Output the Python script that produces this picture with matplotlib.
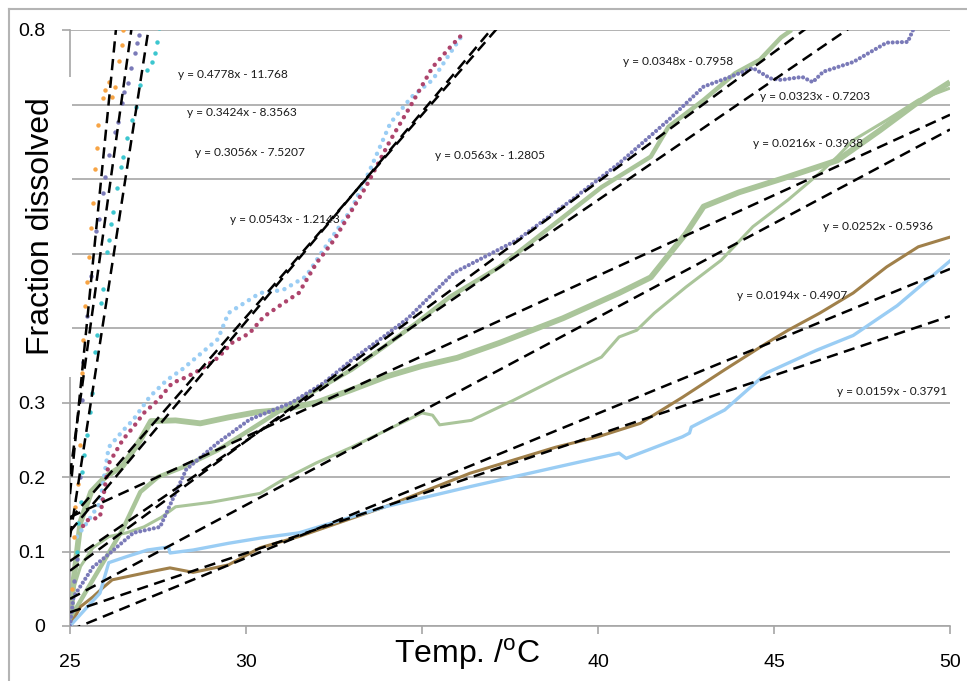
import numpy as np
import matplotlib.pyplot as plt
from matplotlib.lines import Line2D
from matplotlib.patches import Rectangle

# ---- data ----
orange_x = [25.05, 25.1, 25.15, 25.23, 25.28, 25.34, 25.37, 25.43, 25.49, 25.55, 25.6, 25.65,
            25.7, 25.76, 25.8, 25.95, 26.0, 26.1, 26.2, 26.28, 26.4, 26.48, 26.5]
orange_y = [0.05, 0.12, 0.16, 0.19, 0.243, 0.34, 0.384, 0.43, 0.462, 0.495, 0.534, 0.568,
            0.613, 0.642, 0.672, 0.709, 0.72, 0.73, 0.71, 0.723, 0.758, 0.78, 0.80]

steep_purple_x = [25.1, 25.2, 25.28, 25.34, 25.37, 25.48, 25.6, 25.74, 25.82, 25.95, 26.0, 26.1,
                  26.28, 26.36, 26.48, 26.53, 26.65, 26.73, 26.85, 26.9, 26.96]
steep_purple_y = [0.06, 0.09, 0.2, 0.303, 0.354, 0.416, 0.47, 0.53, 0.546, 0.581, 0.603, 0.632,
                  0.663, 0.677, 0.702, 0.717, 0.729, 0.749, 0.769, 0.782, 0.793]

cyan_x = [25.2, 25.23, 25.31, 25.34, 25.4, 25.48, 25.57, 25.63, 25.71, 25.77, 25.87, 25.95,
          26.05, 26.1, 26.16, 26.22, 26.34, 26.45, 26.5, 26.62, 26.76, 26.88, 26.99, 27.19,
          27.33, 27.41, 27.47, 27.53]
cyan_y = [0.1, 0.138, 0.166, 0.207, 0.23, 0.256, 0.287, 0.313, 0.368, 0.39, 0.434, 0.452,
          0.502, 0.518, 0.54, 0.556, 0.588, 0.616, 0.63, 0.655, 0.679, 0.697, 0.726, 0.746,
          0.757, 0.769, 0.784, 0.803]

crimson_x = [25.3, 25.5, 25.85, 26.1, 26.5, 26.8, 27.1, 27.5, 27.9, 28.3, 28.7, 29.2, 29.6,
             30.1, 30.5, 31.05, 31.5, 32.0, 32.5, 33.4, 34.1, 34.66, 35.3, 35.8, 36.2]
crimson_y = [0.13, 0.142, 0.146, 0.218, 0.25, 0.267, 0.286, 0.303, 0.326, 0.334, 0.344, 0.36,
             0.38, 0.393, 0.415, 0.433, 0.447, 0.487, 0.518, 0.589, 0.652, 0.697, 0.75, 0.777, 0.797]

ltblue_dot_x = [25.2, 25.5, 25.85, 26.1, 26.5, 26.8, 27.27, 27.75, 28.2, 28.7, 29.2, 29.5,
                30.4, 31.05, 31.7, 32.2, 33.0, 33.5, 34.1, 34.7, 35.3, 35.8, 36.1]
ltblue_dot_y = [0.12, 0.14, 0.165, 0.24, 0.262, 0.277, 0.308, 0.33, 0.345, 0.365, 0.385, 0.42,
                0.447, 0.451, 0.469, 0.505, 0.56, 0.61, 0.675, 0.71, 0.733, 0.769, 0.79]

purple_x = [25.0, 25.1, 25.65, 26.14, 26.8, 27.56, 28.3, 29.2, 30.1, 31.3, 32.2, 33.0, 33.9,
            34.6, 35.9, 37.7, 39.2, 40.6, 42.0, 43.0, 43.75, 44.4, 44.9, 45.2, 45.8, 46.1,
            46.4, 47.25, 48.2, 48.8, 48.95]
purple_y = [0.0, 0.039, 0.079, 0.098, 0.125, 0.133, 0.21, 0.246, 0.277, 0.30, 0.326, 0.357,
            0.388, 0.413, 0.474, 0.518, 0.57, 0.621, 0.679, 0.724, 0.737, 0.749, 0.735, 0.733,
            0.737, 0.73, 0.744, 0.757, 0.783, 0.784, 0.80]

green_a_x = [25.0, 25.1, 25.3, 25.6, 26.0, 26.5, 27.0, 27.3, 28.0, 28.7, 29.5, 30.3, 31.0, 32.0,
             33.0, 34.0, 35.0, 36.0, 37.2, 39.0, 40.6, 41.5, 42.5, 43.0, 44.0, 45.4, 46.8,
             48.0, 49.0, 50.0]
green_a_y = [0.0, 0.06, 0.14, 0.18, 0.2, 0.215, 0.25, 0.275, 0.276, 0.272, 0.28, 0.287, 0.29,
             0.30, 0.317, 0.335, 0.349, 0.36, 0.38, 0.413, 0.447, 0.468, 0.527, 0.563, 0.582,
             0.603, 0.625, 0.665, 0.70, 0.73]

green_b_x = [25.0, 25.5, 26.0, 26.5, 27.0, 27.5, 28.2, 29.2, 30.1, 31.0, 32.0, 33.0, 33.9,
             34.85, 35.8, 37.2, 38.5, 40.1, 41.5, 42.0, 43.0, 43.9, 44.6, 45.2, 45.5]
green_b_y = [0.01, 0.05, 0.09, 0.13, 0.18, 0.20, 0.213, 0.236, 0.263, 0.29, 0.317, 0.344,
             0.374, 0.407, 0.442, 0.482, 0.53, 0.589, 0.63, 0.67, 0.706, 0.742, 0.76, 0.79, 0.80]

green_c_x = [25.0, 25.1, 25.3, 25.65, 26.1, 26.6, 27.1, 27.6, 28.0, 29.0, 30.4, 31.0, 32.0,
             33.0, 34.0, 35.0, 35.3, 35.5, 36.4, 37.6, 38.9, 40.1, 40.6, 41.1, 41.6, 42.5,
             43.5, 44.4, 45.4, 46.3, 46.8, 47.25, 48.2, 49.1, 50.0]
green_c_y = [0.0, 0.05, 0.08, 0.105, 0.12, 0.125, 0.133, 0.146, 0.16, 0.166, 0.178, 0.195,
             0.219, 0.24, 0.263, 0.286, 0.283, 0.27, 0.276, 0.303, 0.334, 0.361, 0.388, 0.397,
             0.42, 0.455, 0.491, 0.536, 0.572, 0.608, 0.63, 0.652, 0.679, 0.706, 0.722]

brown_x = [25.0, 25.3, 25.65, 25.95, 26.2, 26.6, 27.2, 27.84, 28.5, 29.5, 30.4, 31.5, 33.95,
           36.36, 38.8, 40.0, 40.6, 41.2, 42.4, 43.6, 44.8, 45.4, 46.3, 47.25, 48.2, 49.1, 50.0]
brown_y = [0.0, 0.026, 0.039, 0.052, 0.062, 0.066, 0.072, 0.078, 0.072, 0.082, 0.105, 0.12,
           0.16, 0.205, 0.24, 0.254, 0.263, 0.272, 0.307, 0.344, 0.38, 0.397, 0.42, 0.447,
           0.482, 0.509, 0.522]

ltblue_line_x = [25.0, 25.5, 25.85, 26.1, 26.6, 27.2, 27.8, 27.84, 28.5, 29.5, 30.4, 31.5,
                 33.95, 36.36, 38.8, 40.6, 40.8, 42.4, 42.6, 42.65, 43.6, 44.8, 46.2, 47.25,
                 48.5, 50.0]
ltblue_line_y = [0.0, 0.026, 0.044, 0.085, 0.093, 0.102, 0.106, 0.098, 0.102, 0.111, 0.118,
                 0.125, 0.16, 0.187, 0.213, 0.232, 0.225, 0.254, 0.259, 0.267, 0.29, 0.34,
                 0.37, 0.39, 0.43, 0.49]

# linear trendlines (slope, intercept) as printed on the chart
fit_slopes = [0.4778, 0.3424, 0.3056, 0.0543, 0.0563, 0.0348, 0.0323, 0.0216, 0.0252, 0.0194, 0.0159]
fit_icepts = [-11.768, -8.3563, -7.5207, -1.2143, -1.2805, -0.7958, -0.7203, -0.3938, -0.5936, -0.4907, -0.3791]
fit_labels = ['y = 0.4778x - 11.768', 'y = 0.3424x - 8.3563', 'y = 0.3056x - 7.5207',
              'y = 0.0543x - 1.2143', 'y = 0.0563x - 1.2805', 'y = 0.0348x - 0.7958',
              'y = 0.0323x - 0.7203', 'y = 0.0216x - 0.3938', 'y = 0.0252x - 0.5936',
              'y = 0.0194x - 0.4907', 'y = 0.0159x - 0.3791']
label_x = [29.63, 29.89, 30.11, 31.1, 36.93, 42.27, 46.16, 45.97, 47.95, 45.51, 48.35]
label_y = [0.74, 0.689, 0.635, 0.545, 0.632, 0.758, 0.711, 0.647, 0.536, 0.444, 0.315]

xticks = [25, 30, 35, 40, 45, 50]
xtick_labels = ['25', '30', '', '40', '45', '50']
yticks = [0, 0.1, 0.2, 0.3, 0.4, 0.5, 0.6, 0.7, 0.8]
ytick_labels = ['0', '0.1', '0.2', '0.3', '', '', '', '', '0.8']

# colours
c_orange = '#f7a444'
c_purple = '#7a7ab8'
c_cyan = '#3cc6cf'
c_crimson = '#ad446c'
c_ltblue = '#9acdf4'
c_green = '#aac59a'
c_brown = '#a0804a'
c_grid = '#a6a6a6'

W, H = 967, 681
fig = plt.figure(figsize=(W / 100, H / 100), dpi=100)
ax = fig.add_axes([70 / W, 1 - 626 / H, 880 / W, 596 / H])

ax.set_xlim(25, 50)
ax.set_ylim(0, 0.8)

# green series (thick excel markers)
ax.plot(green_a_x, green_a_y, color=c_green, lw=4.2, solid_capstyle='butt', zorder=2)
ax.plot(green_b_x, green_b_y, color=c_green, lw=3.2, solid_capstyle='butt', zorder=2)
ax.plot(green_c_x, green_c_y, color=c_green, lw=2.2, solid_capstyle='butt', zorder=2)

ax.plot(brown_x, brown_y, color=c_brown, lw=2.2, zorder=3)
ax.plot(ltblue_line_x, ltblue_line_y, color=c_ltblue, lw=2.4, zorder=3)

ax.plot(purple_x, purple_y, color=c_purple, lw=3.0, ls=(0, (0.01, 1.1)),
        dash_capstyle='round', zorder=3)
ax.plot(ltblue_dot_x, ltblue_dot_y, color=c_ltblue, lw=3.2, ls=(0, (0.01, 1.7)),
        dash_capstyle='round', zorder=3)
ax.plot(crimson_x, crimson_y, color=c_crimson, lw=3.2, ls=(0.8, (0.01, 1.7)),
        dash_capstyle='round', zorder=3)

ax.plot(orange_x, orange_y, 'o', color=c_orange, ms=3.2, mew=0, zorder=3)
ax.plot(steep_purple_x, steep_purple_y, 'o', color=c_purple, ms=3.2, mew=0, zorder=3)
ax.plot(cyan_x, cyan_y, 'o', color=c_cyan, ms=3.2, mew=0, zorder=3)

# trendlines
xs = np.array([25.0, 50.0])
for m, b in zip(fit_slopes, fit_icepts):
    ax.plot(xs, m * xs + b, color='black', lw=1.8, ls=(0, (4.5, 2.6)), zorder=4)

for txt, lx, ly in zip(fit_labels, label_x, label_y):
    ax.text(lx, ly, txt, fontsize=8.6, family='Lato', ha='center', va='center',
            color='#1a1a1a', zorder=5)

# axes styling (excel look)
ax.set_xticks(xticks)
ax.set_xticklabels(xtick_labels)
ax.set_yticks(yticks)
ax.set_yticklabels(ytick_labels)
ax.yaxis.grid(True, color=c_grid, lw=1.2)
ax.set_axisbelow(True)
for s in ['top', 'right']:
    ax.spines[s].set_visible(False)
for s in ['left', 'bottom']:
    ax.spines[s].set_color(c_grid)
    ax.spines[s].set_linewidth(1.2)
ax.tick_params(axis='y', direction='out', length=6, width=1.2, color=c_grid,
               labelsize=14, pad=12)
ax.tick_params(axis='x', direction='out', length=6, width=1.2, color=c_grid,
               labelsize=14, pad=14)
for t in ax.get_xticklabels() + ax.get_yticklabels():
    t.set_family('Liberation Sans')

# white box from the axis title covering part of the left axis
fig.patches.append(Rectangle((14 / W, 1 - 377 / H), 58 / W, 300 / H, transform=fig.transFigure,
                             facecolor='white', edgecolor='none', zorder=6))
fig.text(41 / W, 1 - 226 / H, 'Fraction dissolved', rotation=90, ha='center', va='center',
         fontsize=23, family='Liberation Sans', zorder=7)
fig.text(467 / W, 1 - 654 / H, r'Temp. /$^{\mathregular{o}}$C', ha='center', va='center',
         fontsize=23, family='Liberation Sans', zorder=7)

# outer chart frame (left and top edges only are in view)
fig.add_artist(Line2D([9 / W, 9 / W], [0, 1 - 9 / H], transform=fig.transFigure,
                      color='#b4b4b4', lw=1.5))
fig.add_artist(Line2D([9 / W, 1], [1 - 9 / H, 1 - 9 / H], transform=fig.transFigure,
                      color='#b4b4b4', lw=1.5))

fig.savefig('out.png', dpi=100)
